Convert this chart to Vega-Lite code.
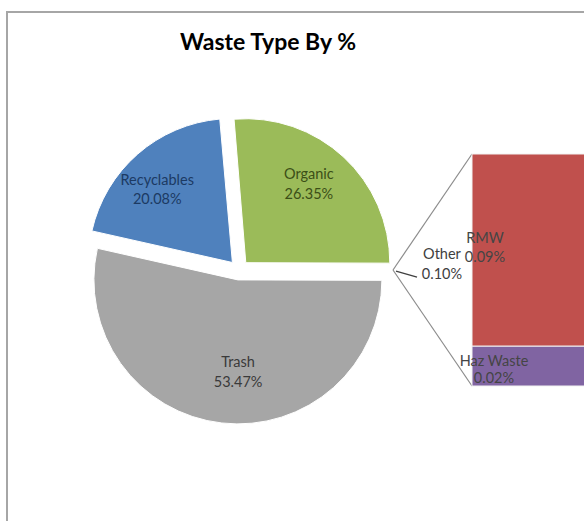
{
  "$schema": "https://vega.github.io/schema/vega-lite/v6.json",
  "width": 582,
  "height": 516,
  "autosize": {"type": "none"},
  "padding": {"left": 7, "top": 12, "right": -5, "bottom": -7},
  "background": "#ffffff",
  "title": {"text": "Waste Type By %", "font": "Lato", "fontSize": 23, "fontWeight": "bold", "color": "#000000", "anchor": "middle", "frame": "group", "offset": -43, "dx": -30},
  "datasets": {
    "pie": [
      {"slice": "Trash", "pct": 0.5347},
      {"slice": "Recyclables", "pct": 0.2008},
      {"slice": "Organic", "pct": 0.2635},
      {"slice": "Other", "pct": 0.0010}
    ],
    "bar": [
      {"group": "Other", "part": "RMW", "pct": 0.00087},
      {"group": "Other", "part": "Haz Waste", "pct": 0.00018}
    ]
  },
  "layer": [
    {
      "data": {"name": "bar"},
      "mark": {"type": "rule", "color": "#8c8c8c", "strokeWidth": 1.2, "x2Offset": 154},
      "encoding": {
        "x": {"datum": "Other", "type": "nominal", "bandPosition": 0, "axis": null},
        "x2": {"datum": "All", "bandPosition": 0.5},
        "y": {"aggregate": "sum", "field": "pct", "type": "quantitative", "axis": null},
        "y2": {"datum": 0.000525}
      }
    },
    {
      "data": {"name": "bar"},
      "transform": [{"filter": "datum.part === 'Haz Waste'"}],
      "mark": {"type": "rule", "color": "#8c8c8c", "strokeWidth": 1.2, "x2Offset": 154},
      "encoding": {
        "x": {"datum": "Other", "type": "nominal", "bandPosition": 0, "axis": null},
        "x2": {"datum": "All", "bandPosition": 0.5},
        "y": {"datum": 0, "type": "quantitative", "axis": null},
        "y2": {"datum": 0.000525}
      }
    },
    {
      "data": {"name": "pie"},
      "encoding": {
        "theta": {"field": "pct", "type": "quantitative", "stack": true, "scale": {"domain": [0, 1], "range": [1.57394, 7.85713]}},
        "order": {"field": "slice", "sort": "descending"},
        "detail": {"field": "slice", "type": "nominal"},
        "color": {"field": "slice", "type": "nominal", "legend": null, "scale": {"domain": ["Trash", "Recyclables", "Organic", "Other", "RMW", "Haz Waste"], "range": ["#a6a6a6", "#4f81bd", "#9bbb59", "#a6a6a6", "#c0504d", "#8064a2"]}},
        "x": {"datum": "All", "type": "nominal", "axis": null}
      },
      "layer": [
        {
          "mark": {"type": "arc", "outerRadius": 144, "xOffset": -1.1, "yOffset": 9.9, "stroke": "#ffffff", "strokeWidth": 1},
          "encoding": {"opacity": {"condition": {"test": "datum.slice === 'Trash'", "value": 1}, "value": 0}}
        },
        {
          "mark": {"type": "arc", "outerRadius": 144, "xOffset": -6.6, "yOffset": -7.5, "stroke": "#ffffff", "strokeWidth": 1},
          "encoding": {"opacity": {"condition": {"test": "datum.slice === 'Recyclables'", "value": 1}, "value": 0}}
        },
        {
          "mark": {"type": "arc", "outerRadius": 144, "xOffset": 6.8, "yOffset": -7.3, "stroke": "#ffffff", "strokeWidth": 1},
          "encoding": {"opacity": {"condition": {"test": "datum.slice === 'Organic'", "value": 1}, "value": 0}}
        },
        {
          "mark": {"type": "text", "radius": 93, "thetaOffset": -0.114, "xOffset": -1.1, "yOffset": 9.9, "dy": -10, "font": "Lato", "fontSize": 14.5, "align": "center", "baseline": "middle"},
          "encoding": {"text": {"field": "slice", "type": "nominal"}, "color": {"value": "#3a3a3a"}, "opacity": {"condition": {"test": "datum.slice === 'Trash'", "value": 1}, "value": 0}}
        },
        {
          "mark": {"type": "text", "radius": 93, "thetaOffset": -0.114, "xOffset": -1.1, "yOffset": 9.9, "dy": 10, "font": "Lato", "fontSize": 14.5, "align": "center", "baseline": "middle"},
          "encoding": {"text": {"field": "pct", "type": "quantitative", "format": ".2%"}, "color": {"value": "#3a3a3a"}, "opacity": {"condition": {"test": "datum.slice === 'Trash'", "value": 1}, "value": 0}}
        },
        {
          "mark": {"type": "text", "radius": 104, "thetaOffset": -0.089, "xOffset": -6.6, "yOffset": -7.5, "dy": -9.5, "font": "Lato", "fontSize": 14.5, "align": "center", "baseline": "middle"},
          "encoding": {"text": {"field": "slice", "type": "nominal"}, "color": {"value": "#1c3a63"}, "opacity": {"condition": {"test": "datum.slice === 'Recyclables'", "value": 1}, "value": 0}}
        },
        {
          "mark": {"type": "text", "radius": 104, "thetaOffset": -0.089, "xOffset": -6.6, "yOffset": -7.5, "dy": 9.5, "font": "Lato", "fontSize": 14.5, "align": "center", "baseline": "middle"},
          "encoding": {"text": {"field": "pct", "type": "quantitative", "format": ".2%"}, "color": {"value": "#1c3a63"}, "opacity": {"condition": {"test": "datum.slice === 'Recyclables'", "value": 1}, "value": 0}}
        },
        {
          "mark": {"type": "text", "radius": 100, "thetaOffset": -0.064, "xOffset": 6.8, "yOffset": -7.3, "dy": -10, "font": "Lato", "fontSize": 14.5, "align": "center", "baseline": "middle"},
          "encoding": {"text": {"field": "slice", "type": "nominal"}, "color": {"value": "#3b4f17"}, "opacity": {"condition": {"test": "datum.slice === 'Organic'", "value": 1}, "value": 0}}
        },
        {
          "mark": {"type": "text", "radius": 100, "thetaOffset": -0.064, "xOffset": 6.8, "yOffset": -7.3, "dy": 10, "font": "Lato", "fontSize": 14.5, "align": "center", "baseline": "middle"},
          "encoding": {"text": {"field": "pct", "type": "quantitative", "format": ".2%"}, "color": {"value": "#3b4f17"}, "opacity": {"condition": {"test": "datum.slice === 'Organic'", "value": 1}, "value": 0}}
        }
      ]
    },
    {
      "data": {"name": "bar"},
      "mark": {"type": "bar", "stroke": "#f2f2f2", "strokeWidth": 1},
      "encoding": {
        "x": {"field": "group", "type": "nominal", "axis": null, "scale": {"type": "band", "domain": ["All", "Other"], "paddingInner": 0.59863, "paddingOuter": 0.2976, "align": 1, "round": false}},
        "y": {"field": "pct", "type": "quantitative", "stack": "zero", "axis": null, "scale": {"domain": [-0.000642674, 0.00169268], "nice": false, "zero": false}},
        "color": {"field": "part", "type": "nominal", "legend": null, "scale": {"domain": ["Trash", "Recyclables", "Organic", "Other", "RMW", "Haz Waste"], "range": ["#a6a6a6", "#4f81bd", "#9bbb59", "#a6a6a6", "#c0504d", "#8064a2"]}},
        "order": {"field": "part", "sort": "ascending"}
      }
    },
    {
      "data": {"name": "bar"},
      "encoding": {
        "x": {"field": "group", "type": "nominal", "bandPosition": 0, "axis": null},
        "y": {"field": "pct", "type": "quantitative", "stack": "zero", "bandPosition": 0.5, "axis": null},
        "detail": {"field": "part", "type": "nominal"},
        "order": {"field": "part", "sort": "ascending"}
      },
      "layer": [
        {
          "mark": {"type": "text", "dx": 13, "dy": -11, "font": "Lato", "fontSize": 14.5, "align": "center", "baseline": "middle", "color": "#454545"},
          "encoding": {"text": {"field": "part", "type": "nominal"}, "opacity": {"condition": {"test": "datum.part === 'RMW'", "value": 1}, "value": 0}}
        },
        {
          "mark": {"type": "text", "dx": 13, "dy": 8, "font": "Lato", "fontSize": 14.5, "align": "center", "baseline": "middle", "color": "#454545"},
          "encoding": {"text": {"field": "pct", "type": "quantitative", "format": ".2%"}, "opacity": {"condition": {"test": "datum.part === 'RMW'", "value": 1}, "value": 0}}
        },
        {
          "mark": {"type": "text", "dx": 22, "dy": -4.5, "font": "Lato", "fontSize": 14.5, "align": "center", "baseline": "middle", "color": "#454545"},
          "encoding": {"text": {"field": "part", "type": "nominal"}, "opacity": {"condition": {"test": "datum.part === 'Haz Waste'", "value": 1}, "value": 0}}
        },
        {
          "mark": {"type": "text", "dx": 22, "dy": 13, "font": "Lato", "fontSize": 14.5, "align": "center", "baseline": "middle", "color": "#454545"},
          "encoding": {"text": {"field": "pct", "type": "quantitative", "format": ".2%"}, "opacity": {"condition": {"test": "datum.part === 'Haz Waste'", "value": 1}, "value": 0}}
        }
      ]
    },
    {
      "data": {"name": "pie"},
      "transform": [{"filter": "datum.slice === 'Other'"}],
      "encoding": {
        "x": {"datum": "Other", "type": "nominal", "bandPosition": 0, "axis": null}
      },
      "layer": [
        {
          "mark": {"type": "text", "dx": -30, "dy": -15, "font": "Lato", "fontSize": 14.5, "align": "center", "baseline": "middle", "color": "#404040"},
          "encoding": {"text": {"field": "slice", "type": "nominal"}}
        },
        {
          "mark": {"type": "text", "dx": -30, "dy": 5, "font": "Lato", "fontSize": 14.5, "align": "center", "baseline": "middle", "color": "#404040"},
          "encoding": {"text": {"field": "pct", "type": "quantitative", "format": ".2%"}}
        }
      ]
    },
    {
      "data": {"name": "pie"},
      "transform": [{"filter": "datum.slice === 'Other'"}],
      "mark": {"type": "rule", "color": "#404040", "strokeWidth": 1.3, "xOffset": 157, "x2Offset": 178, "yOffset": 1, "y2Offset": 7},
      "encoding": {
        "x": {"datum": "All", "type": "nominal", "axis": null},
        "x2": {"datum": "All"},
        "y": {"datum": 0.000525, "type": "quantitative", "axis": null},
        "y2": {"datum": 0.000525}
      }
    }
  ],
  "config": {
    "view": {"stroke": "#a6a6a6", "strokeWidth": 2},
    "text": {"font": "Lato"}
  }
}
